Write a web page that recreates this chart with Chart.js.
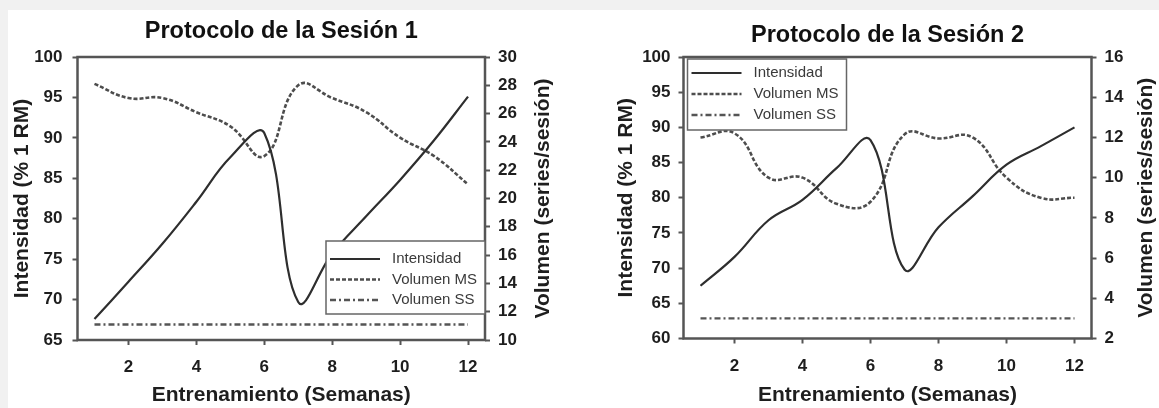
<!DOCTYPE html>
<html>
<head>
<meta charset="utf-8">
<script src="https://cdn.jsdelivr.net/npm/chart.js@4.4.1/dist/chart.umd.min.js"></script>
<style>
  html, body { margin: 0; padding: 0; background: #f1f1f1; }
  #panel { position: absolute; left: 8px; top: 10px; width: 1151px; height: 398px; background: #fff; }
  canvas { position: absolute; top: 0; }
</style>
</head>
<body>
<div id="panel"></div>
<canvas id="chart1" width="580" height="408" style="left:0px"></canvas>
<canvas id="chart2" width="579" height="408" style="left:580px"></canvas>
<script>
// Semanas de entrenamiento
const weeks = [1, 2, 3, 4, 5, 6, 7, 8, 9, 10, 11, 12];
const xTicks = [2, 4, 6, 8, 10, 12];

// Sesión 1
const intensidad1 = [67.6, 72.2, 76.9, 82.1, 87.6, 90.6, 69.7, 75.7, 80.3, 84.8, 89.7, 95.1];
const volMS1 = [28.1, 27.1, 27.1, 26.1, 25.1, 23.0, 28.0, 27.1, 26.1, 24.3, 23.0, 21.0];
const volSS1 = [11.1, 11.1, 11.1, 11.1, 11.1, 11.1, 11.1, 11.1, 11.1, 11.1, 11.1, 11.1];

// Sesión 2
const intensidad2 = [67.5, 71.6, 76.8, 79.7, 84.2, 88.2, 69.8, 75.8, 80.2, 84.7, 87.3, 90.0];
const volMS2 = [12.0, 12.2, 10.0, 10.0, 8.7, 8.8, 12.15, 11.95, 12.0, 10.0, 9.0, 9.0];
const volSS2 = [3.0, 3.0, 3.0, 3.0, 3.0, 3.0, 3.0, 3.0, 3.0, 3.0, 3.0, 3.0];

const seriesNames = ['Intensidad', 'Volumen MS', 'Volumen SS'];
const xTitle = 'Entrenamiento (Semanas)';
const yLeftTitle = 'Intensidad (% 1 RM)';
const yRightTitle = 'Volumen (series/sesión)';

const FONT = '"Liberation Sans", Arial, sans-serif';
const INK = '#1e1e1e';
const AXIS = '#555';

function pts(vals) {
    return weeks.map((w, i) => ({ x: w, y: vals[i] }));
}

// marco del gráfico, título derecho y leyenda
const frame = {
    id: 'frame',
    afterDatasetsDraw(chart, args, opts) {
        const { ctx, chartArea: a } = chart;
        ctx.save();
        ctx.strokeStyle = AXIS;
        ctx.lineWidth = 2.5;
        ctx.strokeRect(a.left, a.top, a.right - a.left, a.bottom - a.top);

        ctx.font = 'bold 21px ' + FONT;
        ctx.fillStyle = INK;
        ctx.textAlign = 'center';
        ctx.textBaseline = 'middle';
        ctx.translate(opts.rightTitleX, (a.top + a.bottom) / 2);
        ctx.rotate(-Math.PI / 2);
        ctx.fillText(yRightTitle, 0, 0);
        ctx.restore();

        // leyenda
        const lg = opts.legend;
        const bx = lg.alignRight ? a.right - lg.w : a.left + lg.dx;
        const by = lg.alignBottom ? a.bottom - lg.dy - lg.h : a.top + lg.dy;
        ctx.save();
        ctx.fillStyle = '#fff';
        ctx.fillRect(bx, by, lg.w, lg.h);
        ctx.strokeStyle = '#666';
        ctx.lineWidth = 1.5;
        ctx.strokeRect(bx, by, lg.w, lg.h);
        ctx.font = '15px ' + FONT;
        ctx.textBaseline = 'middle';
        ctx.textAlign = 'left';
        chart.data.datasets.forEach((ds, i) => {
            const yy = by + lg.row0 + i * lg.rowGap;
            ctx.beginPath();
            ctx.strokeStyle = ds.borderColor;
            ctx.lineWidth = ds.borderWidth;
            ctx.setLineDash(ds.borderDash || []);
            ctx.moveTo(bx + 4, yy);
            ctx.lineTo(bx + 54, yy);
            ctx.stroke();
            ctx.setLineDash([]);
            ctx.fillStyle = '#3a3a3a';
            ctx.fillText(ds.label, bx + 66, yy);
        });
        ctx.restore();
    }
};

function makeChart(id, cfg) {
    const ctx = document.getElementById(id).getContext('2d');
    return new Chart(ctx, {
        type: 'line',
        data: {
            datasets: [
                {
                    label: seriesNames[0],
                    data: pts(cfg.intensidad),
                    yAxisID: 'y',
                    borderColor: '#2e2e2e',
                    borderWidth: 2.2,
                    tension: 0.4
                },
                {
                    label: seriesNames[1],
                    data: pts(cfg.ms),
                    yAxisID: 'y2',
                    borderColor: '#4d4d4d',
                    borderWidth: 2.6,
                    borderDash: [4, 2],
                    tension: 0.45
                },
                {
                    label: seriesNames[2],
                    data: pts(cfg.ss),
                    yAxisID: 'y2',
                    borderColor: '#555',
                    borderWidth: 2.4,
                    borderDash: [6, 3, 2, 3],
                    tension: 0
                }
            ]
        },
        options: {
            responsive: false,
            animation: false,
            devicePixelRatio: 1,
            elements: { point: { radius: 0 } },
            layout: { padding: 0 },
            plugins: {
                legend: { display: false },
                tooltip: { enabled: false },
                title: {
                    display: true,
                    fullSize: false,
                    text: cfg.title,
                    color: '#111',
                    font: { family: FONT, size: 23.5, weight: 'bold' },
                    padding: { top: cfg.titleTop, bottom: cfg.titleBottom }
                },
                frame: { rightTitleX: cfg.rightTitleX, legend: cfg.legend }
            },
            scales: {
                x: {
                    type: 'linear',
                    min: 0.5,
                    max: 12.5,
                    afterBuildTicks: s => { s.ticks = xTicks.map(v => ({ value: v })); },
                    afterFit: s => { s.height = cfg.xHeight; },
                    border: { display: false },
                    grid: { drawOnChartArea: false, tickLength: 5, tickColor: AXIS, tickWidth: 2 },
                    ticks: { color: INK, padding: cfg.xPad, font: { family: FONT, size: 17, weight: 'bold' } },
                    title: {
                        display: true, text: xTitle, color: INK,
                        font: { family: FONT, size: 21, weight: 'bold' },
                        padding: { top: 0, bottom: 0 }
                    }
                },
                y: {
                    position: 'left',
                    min: cfg.yMin,
                    max: 100,
                    afterFit: s => { s.width = cfg.leftW; },
                    border: { display: false },
                    grid: { drawOnChartArea: false, tickLength: 5, tickColor: AXIS, tickWidth: 2 },
                    ticks: { stepSize: 5, autoSkip: false, color: INK, padding: cfg.leftPad, font: { family: FONT, size: 17, weight: 'bold' } },
                    title: {
                        display: true, text: yLeftTitle, color: INK,
                        font: { family: FONT, size: 21, weight: 'bold' },
                        padding: { top: cfg.leftTitlePad, bottom: 0 }
                    }
                },
                y2: {
                    position: 'right',
                    min: cfg.y2Min,
                    max: cfg.y2Max,
                    afterFit: s => { s.width = cfg.rightW; },
                    border: { display: false },
                    grid: { drawOnChartArea: false, tickLength: 5, tickColor: AXIS, tickWidth: 2 },
                    ticks: { stepSize: 2, autoSkip: false, color: INK, padding: 8, font: { family: FONT, size: 17, weight: 'bold' } }
                }
            }
        },
        plugins: [frame]
    });
}

makeChart('chart1', {
    title: 'Protocolo de la Sesión 1',
    intensidad: intensidad1, ms: volMS1, ss: volSS1,
    yMin: 65, y2Min: 10, y2Max: 30,
    titleTop: 17, titleBottom: 11.8,
    xHeight: 68, xPad: 12,
    leftW: 77.5, leftPad: 10, leftTitlePad: 9.5,
    rightW: 95, rightTitleX: 543,
    legend: { alignRight: true, alignBottom: true, w: 159, h: 73, dy: 26, row0: 18, rowGap: 20.5 }
});

makeChart('chart2', {
    title: 'Protocolo de la Sesión 2',
    intensidad: intensidad2, ms: volMS2, ss: volSS2,
    yMin: 60, y2Min: 2, y2Max: 16,
    titleTop: 21, titleBottom: 7.8,
    xHeight: 69.5, xPad: 13,
    leftW: 103.5, leftPad: 8, leftTitlePad: 33.5,
    rightW: 67.5, rightTitleX: 566,
    legend: { alignRight: false, alignBottom: false, dx: 4, dy: 2, w: 159, h: 71, row0: 14, rowGap: 21 }
});
</script>
</body>
</html>
